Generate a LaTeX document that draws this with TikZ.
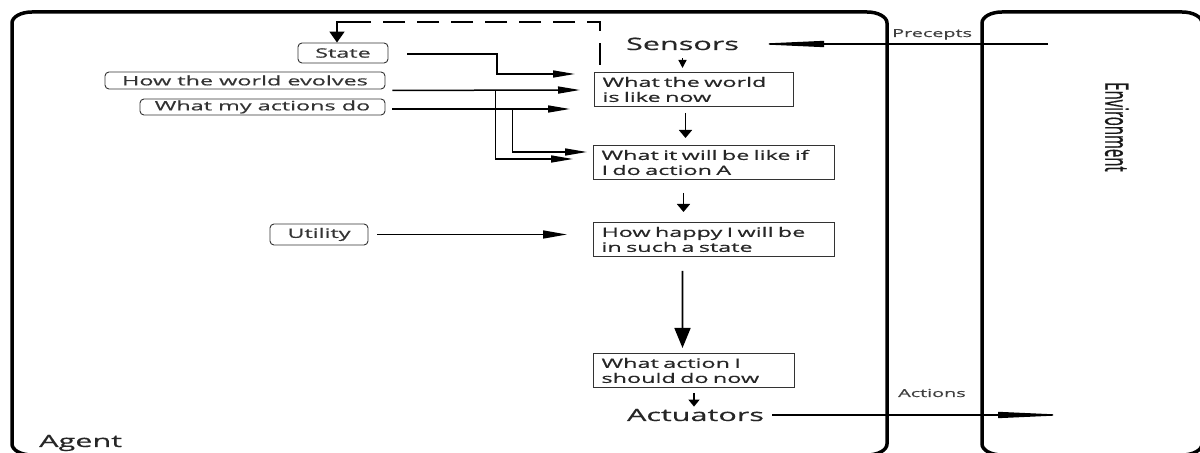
\documentclass[tikz,border=0pt]{standalone}
\usepackage{fontspec}
\setmainfont{Open Sans}[FakeStretch=1.8, FakeBold=0.6]
\newfontfamily\envfont{Open Sans}[FakeBold=0.8]
\usetikzlibrary{arrows.meta,calc}

\tikzset{
  frame/.style={line width=3.5bp, black},
  stepbox/.style={draw=black!80, line width=1bp, anchor=north west, minimum height=34bp,
    inner xsep=8bp, inner ysep=0bp, align=left, text=black!85,
    font=\fontsize{13bp}{15bp}\selectfont},
  tag/.style={draw=black!80, line width=0.9bp, rounded corners=4bp, inner sep=0bp,
    text=black!80, font=\fontsize{13bp}{15bp}\selectfont},
  bigtext/.style={inner sep=2bp, text=black!85, font=\fontsize{17bp}{20bp}\selectfont},
  smalltext/.style={inner sep=0bp, text=black!75, font=\fontsize{11bp}{13bp}\selectfont},
  feed/.style={line width=1.5bp, -{Triangle[length=22bp,width=7bp]}},
  downlink/.style={line width=1.6bp, -{Triangle[length=8bp,width=13bp]}},
  envlink/.style={line width=1.4bp, -{Triangle[length=72bp,width=6bp]}},
  loopback/.style={line width=1.8bp, dash pattern=on 22bp off 12bp},
}

\begin{document}
\begin{tikzpicture}[x=1bp, y=-1bp]
  \useasboundingbox (0,0) rectangle (1200,453);
  \fill[white] (0,0) rectangle (1200,453);
  \clip (0,0) rectangle (1200,453);

  % agent and environment frames
  \draw[frame] (12,444) -- (12,23) .. controls (12,16.9) and (21,12) .. (32,12)
    -- (867,12) .. controls (878,12) and (887,16.9) .. (887,23)
    -- (887,444) .. controls (887,450.1) and (878,455) .. (867,455)
    -- (32,455) .. controls (21,455) and (12,450.1) .. (12,444) -- cycle;
  \draw[frame] (982,444) -- (982,23) .. controls (982,16.9) and (991,12) .. (1002,12)
    -- (1182,12) .. controls (1193,12) and (1202,16.9) .. (1202,23)
    -- (1202,444) .. controls (1202,450.1) and (1193,455) .. (1182,455)
    -- (1002,455) .. controls (991,455) and (982,450.1) .. (982,444) -- cycle;

  % labels
  \node[bigtext, anchor=base west] (agent) at (37,447) {Agent};
  \node[smalltext, anchor=base west] (precepts) at (892,37) {Precepts};
  \node[smalltext, anchor=base west] (actions) at (898,397) {Actions};
  \node[rotate=-90, inner sep=0bp, text=black!90] (environment) at (1117,127)
    {\scalebox{0.83}[1.8]{\envfont\fontsize{18bp}{20bp}\selectfont Environment}};

  % processing chain
  \node[bigtext, anchor=base] (sensors) at (682.5,50) {Sensors};
  \node[stepbox, text width=183bp] (world) at (594,72) {What the world\\is like now};
  \node[stepbox, text width=225bp] (will) at (593,145) {What it will be like if\\I do action A};
  \node[stepbox, text width=225bp] (happy) at (593,222) {How happy I will be\\in such a state};
  \node[stepbox, text width=185bp] (decide) at (593,353) {What action I\\should do now};
  \node[bigtext, anchor=base] (actuators) at (695.5,421) {Actuators};

  % internal knowledge
  \node[tag, minimum width=90bp, minimum height=20bp] (state) at (343,53) {State};
  \node[tag, minimum width=280bp, minimum height=17bp] (evolves) at (245,80.5) {How the world evolves};
  \node[tag, minimum width=245bp, minimum height=16bp] (myact) at (262.5,107) {What my actions do};
  \node[tag, minimum width=98bp, minimum height=21bp] (utility) at (319,234.5) {Utility};

  % outside links
  \coordinate (envin) at (1048,44);
  \coordinate (envout) at (1070,414);
  \draw[envlink, shorten >=11bp] (envin) -- (sensors.east |- envin);
  \draw[envlink, shorten <=6bp] (actuators.east) -- (actuators.east -| envout);

  % downward flow
  \draw[downlink, line width=1.4bp, -{Triangle[length=8bp,width=8bp]}, shorten <=6bp, shorten >=4bp]
    (sensors.south) -- (sensors.south |- world.north);
  \draw[downlink] ($(world.south)+(-8.5,6)$) -- ($(world.south |- will.north)+(-8.5,-7)$);
  \draw[downlink] ($(will.south)+(-30.5,13)$) -- ($(happy.north)+(-30.5,-10)$);
  \draw[downlink, -{Triangle[length=20bp,width=16bp]}]
    ($(happy.south)+(-31.5,14)$) -- ($(decide.north)+(-11.5,-5)$);
  \draw[downlink, -{Triangle[length=7bp,width=11bp]}, shorten <=5bp]
    (decide.south) -- (decide.south |- actuators.north);

  % knowledge feeding the model
  \draw[feed] ($(state.east)+(19,1)$) -| (497,74) -- ($(world.west |- 0,74)+(-19,0)$);
  \draw[feed] ($(evolves.south east)+(7,1)$) -- ($(world.west |- 0,90)+(-14,0)$);
  \draw[feed] ($(evolves.south east)+(110,1)$) |- ($(will.west |- 0,159)+(-20,0)$);
  \draw[feed] ($(myact.east)+(7,2)$) -- ($(world.west |- 0,109)+(-24,0)$);
  \draw[feed] ($(myact.east)+(127,2)$) |- ($(will.west |- 0,152)+(-6,0)$);
  \draw[feed, -{Triangle[length=24bp,width=8bp]}]
    ($(utility.east)+(9,0)$) -- ($(happy.west |- utility.east)+(-26,0)$);

  % state update loop
  \coordinate (fb) at (368,22);
  \draw[loopback] ($(world.north west)+(6,-7)$) |- (fb);
  \draw[line width=1.8bp, -{Triangle[length=11bp,width=15bp]}] (fb) -| ($(state.north)+(-6,0)$);
\end{tikzpicture}
\end{document}
